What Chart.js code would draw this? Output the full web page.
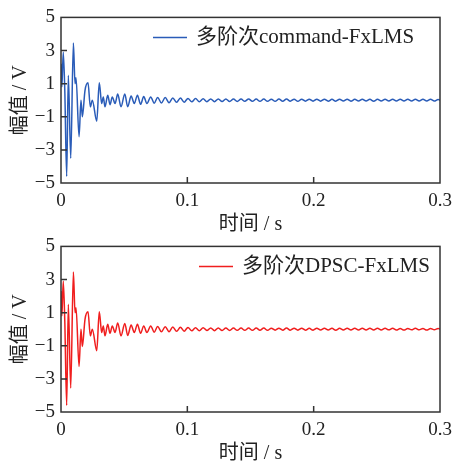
<!DOCTYPE html>
<html><head><meta charset="utf-8">
<script src="https://cdn.jsdelivr.net/npm/chart.js@4"></script>
<style>
html,body{margin:0;padding:0;background:#fff;width:452px;height:463px;overflow:hidden}
.w{position:absolute;left:0;width:452px;height:238px}
#w1{top:0}#w2{top:229px}
</style></head><body>
<div class="w" id="w1"><canvas id="c1"></canvas></div>
<div class="w" id="w2"><canvas id="c2"></canvas></div>
<script>
const times = [
0.0000,0.0007,0.0018,0.0030,0.0045,0.0058,0.0077,0.0098,0.0111,0.0119,
0.0143,0.0158,0.0169,0.0190,0.0214,0.0232,0.0248,0.0283,0.0303,0.0322,
0.0335,0.0348,0.0370,0.0388,0.0406,0.0428,0.0449,0.0475,0.0505,0.0528,
0.0555,0.0580,0.0605,0.0630,0.0655,0.0680,0.0710,0.0738,0.0765,0.0795,
0.0825,0.0855,0.0885,0.0915,0.0945,0.0975,0.1005,
0.1035,0.1065,0.1095,0.1125,0.1155,0.1185,0.1215,0.1245,0.1275,0.1305,
0.1335,0.1365,0.1395,0.1425,0.1455,0.1485,0.1515,0.1545,0.1575,0.1605,
0.1635,0.1665,0.1695,0.1725,0.1755,0.1785,0.1815,0.1845,0.1875,0.1905,
0.1935,0.1965,0.1995,0.2025,0.2055,0.2085,0.2115,0.2145,0.2175,0.2205,
0.2235,0.2265,0.2295,0.2325,0.2355,0.2385,0.2415,0.2445,0.2475,0.2505,
0.2535,0.2565,0.2595,0.2625,0.2655,0.2685,0.2715,0.2745,0.2775,0.2805,
0.2835,0.2865,0.2895,0.2925,0.2955,0.2985,0.3000];

const commandValues = [
2.2,0.8,2.9,0.6,-4.6,1.5,-3.5,3.45,1.0,1.35,
-2.2,0.0,-1.0,0.6,1.05,-0.4,0.0,-1.27,1.05,-0.2,
0.2,-0.4,0.3,-0.27,0.2,-0.2,0.37,-0.4,0.37,-0.4,
0.25,-0.2,0.3,-0.25,0.22,-0.2,0.2,-0.18,0.17,-0.17,
0.16,-0.15,0.14,-0.13,0.13,-0.12,0.11,
-0.10,0.10,-0.09,0.09,-0.09,0.08,-0.09,0.08,-0.08,0.08,
-0.08,0.07,-0.08,0.07,-0.07,0.08,-0.07,0.07,-0.07,0.07,
-0.07,0.06,-0.07,0.07,-0.06,0.07,-0.06,0.06,-0.07,0.06,
-0.06,0.06,-0.06,0.06,-0.06,0.06,-0.06,0.05,-0.06,0.06,
-0.05,0.06,-0.06,0.05,-0.05,0.06,-0.05,0.05,-0.06,0.05,
-0.05,0.05,-0.05,0.05,-0.05,0.05,-0.05,0.05,-0.05,0.05,
-0.05,0.05,-0.05,0.05,-0.05,0.04,0.0];

const dpscValues = [
2.3,0.8,2.9,0.5,-4.6,1.5,-3.55,3.45,1.0,1.3,
-2.25,0.0,-1.05,0.6,1.05,-0.4,0.0,-1.3,1.05,-0.2,
0.2,-0.4,0.3,-0.25,0.2,-0.2,0.38,-0.4,0.35,-0.38,
0.25,-0.2,0.3,-0.25,0.2,-0.2,0.2,-0.18,0.17,-0.16,
0.15,-0.15,0.14,-0.13,0.12,-0.12,0.11,
-0.10,0.09,-0.09,0.09,-0.08,0.08,-0.09,0.08,-0.08,0.07,
-0.08,0.07,-0.07,0.07,-0.07,0.07,-0.07,0.07,-0.06,0.07,
-0.07,0.06,-0.06,0.06,-0.06,0.07,-0.06,0.06,-0.06,0.06,
-0.06,0.05,-0.06,0.06,-0.05,0.06,-0.05,0.05,-0.06,0.05,
-0.05,0.05,-0.05,0.05,-0.05,0.05,-0.05,0.05,-0.05,0.05,
-0.05,0.05,-0.04,0.05,-0.05,0.04,-0.05,0.04,-0.04,0.05,
-0.04,0.04,-0.05,0.04,-0.04,0.04,0.0];

const yTicks = [-5,-3,-1,1,3,5];
const xTicks = [0,0.1,0.2,0.3];
const yTitle = '幅值 / V';
const xTitle = '时间 / s';

const FONT = "'Liberation Serif','Noto Sans CJK SC',serif";
const TXT = '#222';

const framePlugin = {
  id: 'frame',
  afterDatasetsDraw(chart) {
    const {ctx, chartArea: a, scales} = chart;
    ctx.save();
    ctx.strokeStyle = '#333';
    ctx.lineWidth = 1.5;
    ctx.beginPath();
    yTicks.slice(1, -1).forEach(v => {
      const y = scales.y.getPixelForValue(v);
      ctx.moveTo(a.left, y); ctx.lineTo(a.left + 6, y);
    });
    xTicks.slice(1, -1).forEach(v => {
      const x = scales.x.getPixelForValue(v);
      ctx.moveTo(x, a.bottom); ctx.lineTo(x, a.bottom - 6);
    });
    ctx.stroke();
    ctx.strokeRect(a.left, a.top, a.right - a.left, a.bottom - a.top);
    ctx.restore();
  }
};

const legendPlugin = {
  id: 'inLegend',
  afterDatasetsDraw(chart, args, opts) {
    const {ctx, chartArea: a} = chart;
    const ds = chart.data.datasets[0];
    const y = a.top + 20;
    ctx.save();
    ctx.strokeStyle = ds.borderColor;
    ctx.lineWidth = ds.borderWidth;
    ctx.beginPath();
    ctx.moveTo(opts.x, y); ctx.lineTo(opts.x + 34, y);
    ctx.stroke();
    ctx.fillStyle = TXT;
    ctx.font = '21px ' + FONT;
    ctx.textBaseline = 'middle';
    ctx.textAlign = 'left';
    ctx.fillText(ds.label, opts.x + 43, y);
    ctx.restore();
  }
};

function makeChart(id, label, values, color, legendX) {
  const pts = times.map((t, i) => ({x: t, y: values[i]}));
  return new Chart(document.getElementById(id), {
    type: 'line',
    data: { datasets: [{
      label: label, data: pts, borderColor: color, backgroundColor: color,
      borderWidth: 1.5, pointRadius: 0, cubicInterpolationMode: 'monotone', fill: false
    }]},
    options: {
      responsive: true, maintainAspectRatio: false, animation: false,
      layout: { padding: { top: 14, right: 12, left: 0, bottom: 0 } },
      plugins: {
        tooltip: { enabled: false },
        legend: { display: false },
        inLegend: { x: legendX }
      },
      scales: {
        x: {
          type: 'linear', min: 0, max: 0.3,
          afterBuildTicks: s => { s.ticks = xTicks.map(v => ({value: v})); },
          afterFit: s => { s.height = 55; s.paddingRight = 0; s.paddingLeft = 0; },
          grid: { display: false, drawTicks: false },
          border: { display: false },
          ticks: { color: TXT, font: { family: FONT, size: 19 }, padding: 7, maxRotation: 0,
                   callback: v => String(v) },
          title: { display: true, text: xTitle, color: TXT,
                   font: { family: FONT, size: 20 }, padding: { top: 0, bottom: 1 } }
        },
        y: {
          min: -5, max: 5,
          afterBuildTicks: s => { s.ticks = yTicks.map(v => ({value: v})); },
          afterFit: s => { s.width = 61; },
          grid: { display: false, drawTicks: false },
          border: { display: false },
          ticks: { color: TXT, font: { family: FONT, size: 19 }, padding: 6,
                   callback: v => v < 0 ? '\u2212' + Math.abs(v) : String(v) },
          title: { display: true, text: yTitle, color: TXT,
                   font: { family: FONT, size: 20 }, padding: { top: 9, bottom: 0 } }
        }
      }
    },
    plugins: [framePlugin, legendPlugin]
  });
}

makeChart('c1', '多阶次command-FxLMS', commandValues, '#2a5cb8', 153);
makeChart('c2', '多阶次DPSC-FxLMS', dpscValues, '#f01e1e', 199);
</script>
</body></html>
